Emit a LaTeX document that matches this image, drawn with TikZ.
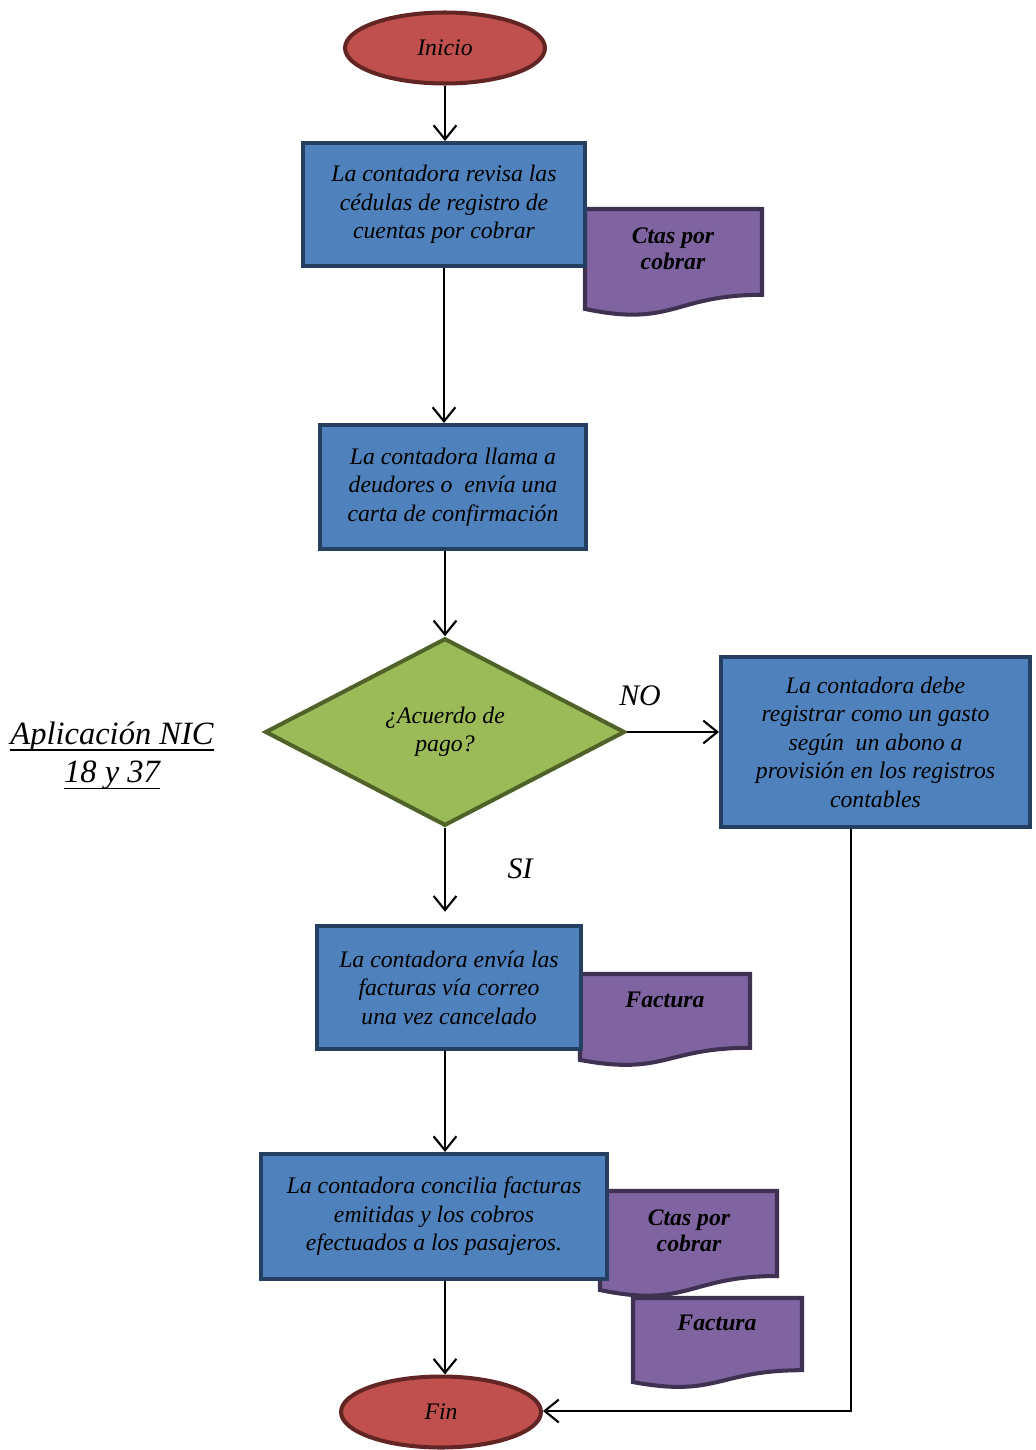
\documentclass[tikz,border=0pt]{standalone}
\usepackage{fontspec}
\setmainfont{Liberation Serif}
\usetikzlibrary{arrows.meta,shapes.geometric}

\definecolor{termfill}{HTML}{C0504D}
\definecolor{termline}{HTML}{632523}
\definecolor{procfill}{HTML}{4F81BD}
\definecolor{procline}{HTML}{243F60}
\definecolor{docfill}{HTML}{8064A2}
\definecolor{docline}{HTML}{3F3151}
\definecolor{decfill}{HTML}{9BBB59}
\definecolor{decline}{HTML}{4F6228}

% document symbol with a wavy bottom edge: corners (x1,y1)-(x2,y2)
\newcommand\docsymbol[4]{%
  \filldraw[docshape] (#1,#2) -- (#3,#2) -- (#3,{#2+0.802*(#4-#2)})
    .. controls ({(#1+#3)/2},{#2+0.802*(#4-#2)}) and ({(#1+#3)/2},{#2+1.1075*(#4-#2)})
    .. (#1,{#2+0.934*(#4-#2)}) -- cycle;}

% underline with a heavier rule
\newcommand\thickul[1]{\setbox0\hbox{#1}\rlap{\vrule height -2.6pt depth 3.7pt width \wd0}\box0}

\begin{document}
\begin{tikzpicture}[x=0.02cm,y=-0.02cm,
  boxtext/.style={font=\itshape\fontsize{13.5}{16.2}\selectfont, align=center},
  proc/.style={rectangle, draw=procline, fill=procfill, line width=2.3pt,
    inner sep=0pt, boxtext},
  term/.style={ellipse, draw=termline, fill=termfill, line width=2.3pt,
    inner sep=0pt, minimum width=4.0cm, minimum height=1.42cm, boxtext},
  dec/.style={diamond, draw=decline, fill=decfill, line width=2.3pt,
    inner sep=0pt, minimum width=7.2cm, minimum height=3.75cm, boxtext},
  docshape/.style={draw=docline, fill=docfill, line width=2.3pt},
  doctext/.style={anchor=north, align=center, inner sep=0pt,
    font=\bfseries\itshape\fontsize{13.5}{15.3}\selectfont},
  lbl/.style={font=\itshape\fontsize{17}{20}\selectfont},
  arr/.style={line width=1.2pt,
    -{Straight Barb[length=8pt,width=13pt,line width=1.2pt]}}]

\useasboundingbox (0,0) rectangle (1035,1450);

% supporting documents (behind the process boxes)
\docsymbol{585}{209}{762}{316}
\node[doctext] (docA) at (673,227) {Ctas por\\cobrar};
\docsymbol{580}{974}{750}{1066}
\node[doctext] (docB) at (665,992) {Factura};
\docsymbol{600}{1191}{777}{1297}
\node[doctext] (docC) at (689,1209) {Ctas por\\cobrar};
\docsymbol{633}{1298}{802}{1388}
\node[doctext] (docD) at (717,1315) {Factura};

% main flow
\node[term] (ini) at (445,48) {Inicio};
\node[proc, minimum width=5.64cm, minimum height=2.46cm] (b1) at (444,204.5)
  {La contadora revisa las\\cédulas de registro de\\cuentas por cobrar};
\node[proc, minimum width=5.32cm, minimum height=2.48cm] (b2) at (453,487)
  {La contadora llama a\\deudores o\ \ envía una\\carta de confirmación};
\node[dec] (dia) at (445,732) {¿Acuerdo de\\pago?};
\node[proc, minimum width=6.18cm, minimum height=3.4cm] (bno) at (875.5,742)
  {La contadora debe\\registrar como un gasto\\según\ \ un abono a\\provisión en los registros\\contables};
\node[proc, minimum width=5.28cm, minimum height=2.46cm] (b3) at (449,987.5)
  {La contadora envía las\\facturas vía correo\\una vez cancelado};
\node[proc, minimum width=6.92cm, minimum height=2.5cm] (b4) at (434,1216.5)
  {La contadora concilia facturas\\emitidas y los cobros\\efectuados a los pasajeros.};
\node[term] (fin) at (441,1412) {Fin};

% side note
\node[font=\itshape\fontsize{18.5}{21.8}\selectfont, align=center] (nic) at (112,756)
  {\thickul{Aplicación NIC}\\\thickul{18 y 37}};

% branch labels
\node[lbl] (lno) at (640,696) {NO};
\node[lbl] (lsi) at (520,869) {SI};

% connectors
\coordinate (corner) at (851,1411);
\draw[arr] (ini.south) -- (ini.south |- b1.north);
\draw[arr] (b1.south) -- (b1.south |- b2.north);
\draw[arr] (b2.south -| ini.south) -- (dia.north);
\draw[arr, shorten >=7pt] (dia.south) -- (dia.south |- b3.north);
\draw[arr] (dia.east) -- (dia.east -| bno.west);
\draw[arr] (b3.south -| ini.south) -- (b4.north -| ini.south);
\draw[arr] (b4.south -| ini.south) -- (fin.north -| ini.south);
\draw[arr] (bno.south -| corner) -- (corner) -- (fin.east |- corner);
\end{tikzpicture}
\end{document}
